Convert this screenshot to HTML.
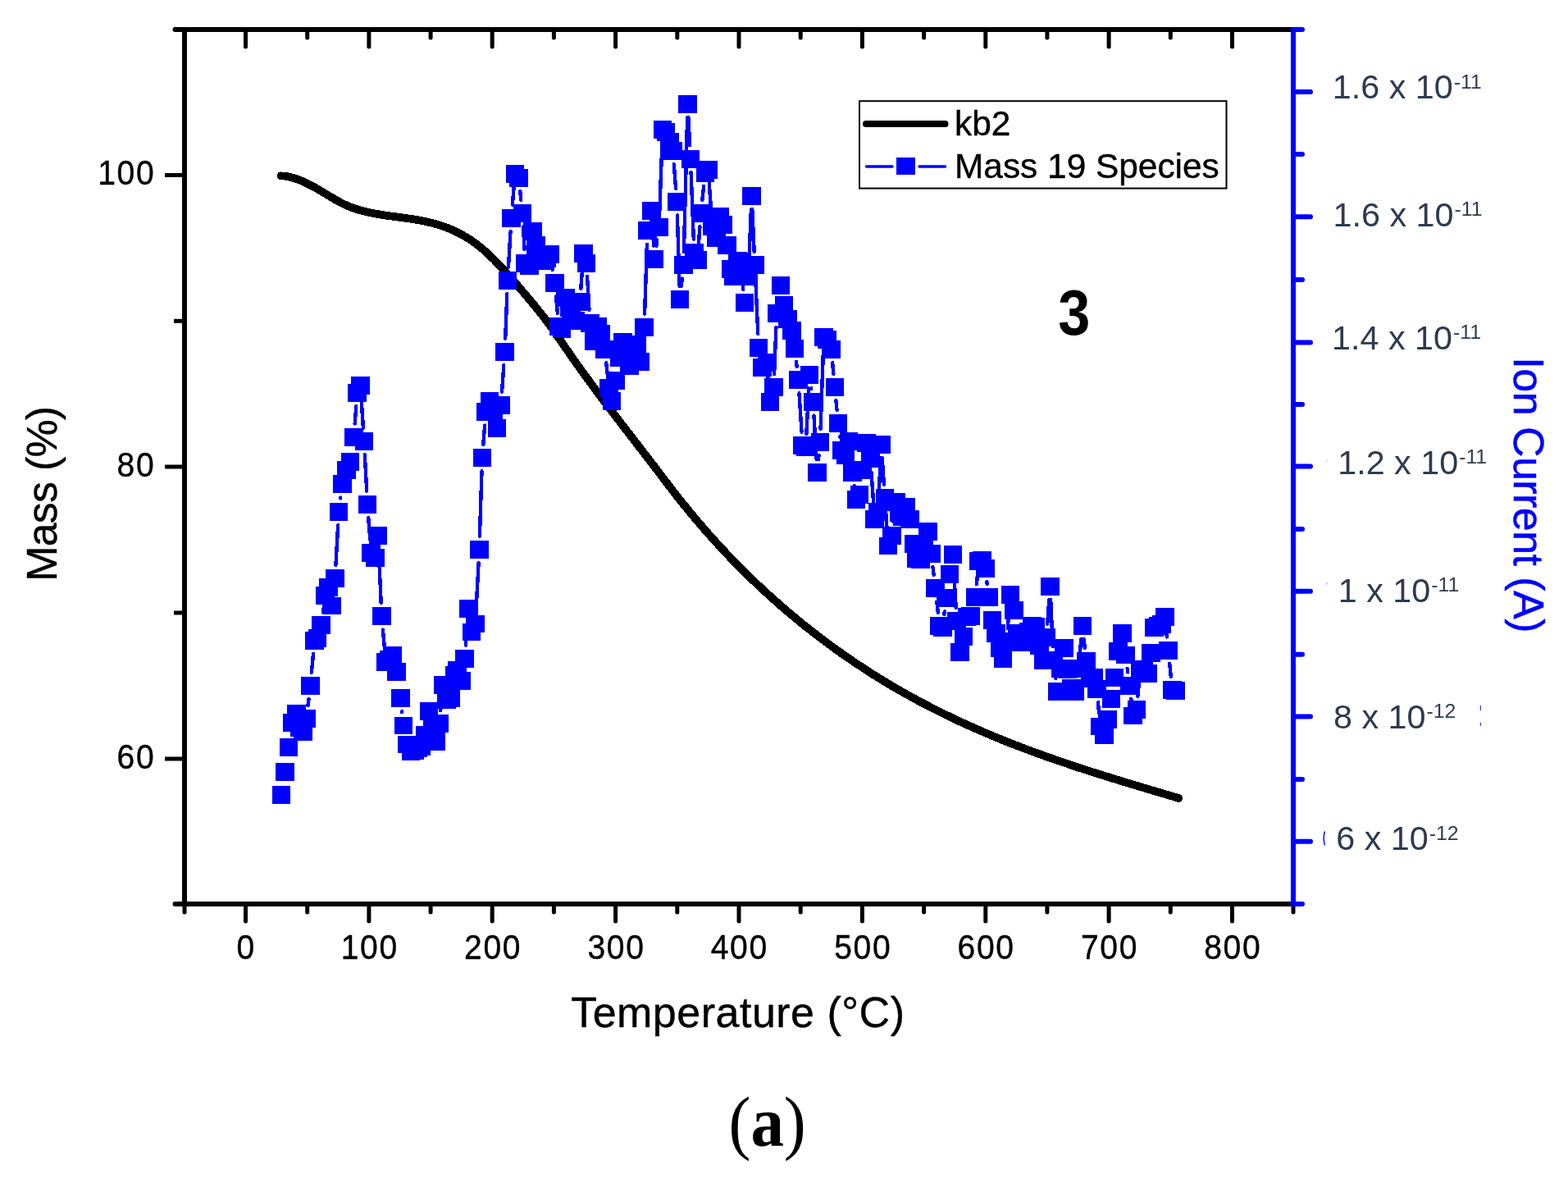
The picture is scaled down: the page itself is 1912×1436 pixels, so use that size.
<!DOCTYPE html>
<html lang="en"><head><meta charset="utf-8"><title>TGA-MS kb2</title>
<style>html,body{margin:0;padding:0;background:#fff;overflow:hidden}svg{display:block}text{font-family:"Liberation Sans",Arial,sans-serif}.ser{font-family:"Liberation Serif","Times New Roman",serif}.k{fill:#000;stroke:#000;stroke-width:.4px;stroke-linejoin:round}</style></head><body>
<svg width="1912" height="1436" viewBox="0 0 1912 1436">
<rect width="1912" height="1436" fill="#fff"/>
<path d="M342.5,214.3 L347.5,214.7 L352.5,215.6 L357.5,216.8 L362.5,218.5 L367.5,220.4 L372.5,222.7 L377.5,225.1 L382.5,227.8 L387.5,230.6 L392.5,233.6 L397.5,236.6 L402.5,239.6 L407.5,242.5 L412.5,245.4 L417.5,248.0 L422.5,250.3 L427.5,252.4 L432.5,254.2 L437.5,255.8 L442.5,257.2 L447.5,258.4 L452.5,259.5 L457.5,260.5 L462.5,261.4 L467.5,262.2 L472.5,262.9 L477.5,263.6 L482.5,264.2 L487.5,264.9 L492.5,265.6 L497.5,266.3 L502.5,267.0 L507.5,267.8 L512.5,268.7 L517.5,269.7 L522.5,270.8 L527.5,272.0 L532.5,273.4 L537.5,275.0 L542.5,276.7 L547.5,278.6 L552.5,280.7 L557.5,283.1 L562.5,285.7 L567.5,288.5 L572.5,291.6 L577.5,295.0 L582.5,298.8 L587.5,302.8 L592.5,307.1 L597.5,311.7 L602.5,316.6 L607.5,321.7 L612.5,326.9 L617.5,332.4 L622.5,338.0 L627.5,343.7 L632.5,349.6 L637.5,355.5 L642.5,361.4 L647.5,367.4 L652.5,373.4 L657.5,379.5 L662.5,385.8 L667.5,392.4 L672.5,399.2 L677.5,406.4 L682.5,413.7 L687.5,421.0 L692.5,428.2 L697.5,435.4 L702.5,442.5 L707.5,449.5 L712.5,456.4 L717.5,463.2 L722.5,470.0 L727.5,476.8 L732.5,483.5 L737.5,490.1 L742.5,496.7 L747.5,503.2 L752.5,509.8 L757.5,516.3 L762.5,522.8 L767.5,529.2 L772.5,535.7 L777.5,542.2 L782.5,548.7 L787.5,555.1 L792.5,561.7 L797.5,568.2 L802.5,574.7 L807.5,581.3 L812.5,587.9 L817.5,594.4 L822.5,600.9 L827.5,607.3 L832.5,613.5 L837.5,619.7 L842.5,625.8 L847.5,631.8 L852.5,637.7 L857.5,643.5 L862.5,649.2 L867.5,654.8 L872.5,660.4 L877.5,665.8 L882.5,671.2 L887.5,676.5 L892.5,681.8 L897.5,686.9 L902.5,692.0 L907.5,697.0 L912.5,701.9 L917.5,706.7 L922.5,711.5 L927.5,716.2 L932.5,720.8 L937.5,725.4 L942.5,729.9 L947.5,734.3 L952.5,738.7 L957.5,743.0 L962.5,747.3 L967.5,751.4 L972.5,755.6 L977.5,759.7 L982.5,763.7 L987.5,767.6 L992.5,771.5 L997.5,775.4 L1002.5,779.2 L1007.5,782.9 L1012.5,786.6 L1017.5,790.3 L1022.5,793.9 L1027.5,797.4 L1032.5,800.9 L1037.5,804.3 L1042.5,807.7 L1047.5,811.0 L1052.5,814.3 L1057.5,817.6 L1062.5,820.8 L1067.5,823.9 L1072.5,827.0 L1077.5,830.1 L1082.5,833.1 L1087.5,836.1 L1092.5,839.0 L1097.5,841.9 L1102.5,844.7 L1107.5,847.5 L1112.5,850.3 L1117.5,853.0 L1122.5,855.7 L1127.5,858.3 L1132.5,860.9 L1137.5,863.5 L1142.5,866.0 L1147.5,868.5 L1152.5,871.0 L1157.5,873.4 L1162.5,875.8 L1167.5,878.2 L1172.5,880.5 L1177.5,882.8 L1182.5,885.0 L1187.5,887.3 L1192.5,889.5 L1197.5,891.6 L1202.5,893.8 L1207.5,895.9 L1212.5,898.0 L1217.5,900.0 L1222.5,902.1 L1227.5,904.1 L1232.5,906.1 L1237.5,908.0 L1242.5,909.9 L1247.5,911.8 L1252.5,913.7 L1257.5,915.6 L1262.5,917.4 L1267.5,919.2 L1272.5,921.0 L1277.5,922.8 L1282.5,924.6 L1287.5,926.3 L1292.5,928.0 L1297.5,929.7 L1302.5,931.4 L1307.5,933.1 L1312.5,934.8 L1317.5,936.4 L1322.5,938.0 L1327.5,939.7 L1332.5,941.3 L1337.5,942.8 L1342.5,944.4 L1347.5,946.0 L1352.5,947.5 L1357.5,949.1 L1362.5,950.6 L1367.5,952.2 L1372.5,953.7 L1377.5,955.2 L1382.5,956.7 L1387.5,958.2 L1392.5,959.7 L1397.5,961.2 L1402.5,962.7 L1407.5,964.2 L1412.5,965.6 L1417.5,967.1 L1422.5,968.6 L1427.5,970.1 L1432.5,971.6 L1437.3,973.0" fill="none" stroke="#000" stroke-width="9.7" stroke-linecap="round" stroke-linejoin="round" shape-rendering="crispEdges"/>
<path d="M375.5,860.2L376.5,852.2M379.9,819.8L382.0,797.0M393.8,745.8L394.2,742.5M406.5,722.3L406.5,721.6M409.4,689.1L412.2,640.0M415.2,607.5L415.3,606.6M432.7,516.5L434.3,495.2M440.6,486.7L442.9,521.5M444.8,554.1L447.2,598.6M449.2,631.2L451.3,657.6M461.7,669.7L464.7,735.1M466.9,767.6L469.0,790.9M490.2,867.2L490.3,868.3M537.2,866.2L538.8,851.1M567.8,786.7L570.1,758.6M580.5,744.2L583.6,686.3M584.9,653.7L587.5,574.3M589.3,541.8L591.1,518.6M612.1,477.6L614.3,445.3M616.2,412.7L618.3,358.3M620.0,325.7L622.5,282.2M624.9,249.7L626.6,228.0M634.3,233.2L635.3,243.8M638.0,276.3L639.6,304.2M647.1,307.6L647.9,298.2M673.2,325.9L673.8,328.9M678.0,361.2L679.9,381.8M686.9,384.6L687.5,379.2M708.3,351.7L710.3,325.2M716.0,336.8L718.5,377.7M739.2,442.2L740.8,456.4M782.4,424.8L783.6,415.2M786.1,382.7L788.9,297.7M795.5,273.3L797.1,299.7M800.3,299.9L801.3,292.6M804.2,260.2L807.4,174.3M821.8,200.0L824.1,229.8M825.9,262.3L828.5,348.7M830.8,348.8L831.7,339.6M833.9,307.1L838.1,143.3M839.4,143.3L841.1,177.2M842.6,209.8L845.8,291.7M851.7,300.7L853.4,276.3M856.3,243.8L858.2,226.9M864.8,223.3L867.3,259.7M905.7,346.2L906.3,352.8M913.2,320.6L915.9,255.3M917.3,255.3L919.7,306.7M921.2,339.3L924.3,407.2M936.4,458.2L937.6,473.8M944.1,456.1L946.4,398.7M949.3,366.3L949.7,364.1M970.9,441.1L971.6,446.8M974.5,479.3L977.5,526.7M983.4,528.7L986.2,473.3M989.2,473.2L989.3,474.2M992.5,506.7L995.5,559.7M998.0,559.8L998.5,555.2M1000.6,522.7L1003.9,427.7M1015.1,442.2L1016.4,455.8M1019.5,488.2L1020.5,499.8M1024.2,532.2L1024.3,532.8M1037.0,554.2L1037.6,559.8M1041.8,592.2L1041.8,592.8M1062.5,575.8L1065.4,616.7M1071.4,607.7L1073.8,558.3M1075.7,558.3L1077.9,590.7M1080.1,623.3L1081.9,649.2M1089.5,636.6L1090.5,628.2M1137.5,691.2L1138.7,701.2M1142.3,733.6L1143.8,746.8M1151.3,748.8L1151.8,745.5M1162.9,692.2L1165.7,740.7M1168.2,773.2L1168.9,779.2M1190.9,712.1L1192.0,700.2M1203.3,709.2L1203.7,712.1M1228.8,765.8L1230.7,741.1M1277.2,760.7L1279.3,731.1M1281.2,731.1L1283.8,788.2M1286.6,820.7L1287.4,826.8M1316.6,798.8L1318.4,779.2M1321.7,779.2L1322.8,789.8M1339.0,856.2L1340.1,869.3M1374.7,814.7L1375.3,819.5M1379.3,851.9L1379.8,856.3M1387.4,848.8L1388.9,832.2M1422.1,768.2L1422.9,776.4M1426.2,808.8L1427.8,824.8" fill="none" stroke="#0000ff" stroke-width="4.4" stroke-linecap="round" shape-rendering="crispEdges"/>
<g fill="#0000ff" shape-rendering="crispEdges">
<rect x="331.7" y="958.0" width="22.6" height="21.9"/>
<rect x="336.2" y="930.0" width="22.6" height="21.9"/>
<rect x="340.7" y="900.4" width="22.6" height="21.9"/>
<rect x="345.2" y="870.0" width="22.6" height="21.9"/>
<rect x="350.1" y="859.0" width="22.6" height="21.9"/>
<rect x="354.2" y="875.8" width="22.6" height="21.9"/>
<rect x="358.2" y="880.9" width="22.6" height="21.9"/>
<rect x="362.2" y="865.4" width="22.6" height="21.9"/>
<rect x="367.2" y="825.0" width="22.6" height="21.9"/>
<rect x="372.1" y="769.8" width="22.6" height="21.9"/>
<rect x="375.7" y="767.2" width="22.6" height="21.9"/>
<rect x="380.2" y="750.9" width="22.6" height="21.9"/>
<rect x="385.2" y="715.4" width="22.6" height="21.9"/>
<rect x="389.2" y="704.6" width="22.6" height="21.9"/>
<rect x="393.2" y="727.5" width="22.6" height="21.9"/>
<rect x="397.2" y="694.4" width="22.6" height="21.9"/>
<rect x="401.8" y="612.8" width="22.6" height="21.9"/>
<rect x="406.1" y="579.4" width="22.6" height="21.9"/>
<rect x="411.1" y="562.0" width="22.6" height="21.9"/>
<rect x="415.7" y="551.9" width="22.6" height="21.9"/>
<rect x="420.2" y="521.8" width="22.6" height="21.9"/>
<rect x="424.2" y="467.9" width="22.6" height="21.9"/>
<rect x="428.2" y="459.4" width="22.6" height="21.9"/>
<rect x="432.7" y="526.8" width="22.6" height="21.9"/>
<rect x="436.7" y="603.9" width="22.6" height="21.9"/>
<rect x="441.2" y="662.9" width="22.6" height="21.9"/>
<rect x="446.2" y="669.3" width="22.6" height="21.9"/>
<rect x="449.7" y="642.4" width="22.6" height="21.9"/>
<rect x="454.1" y="740.4" width="22.6" height="21.9"/>
<rect x="459.2" y="796.1" width="22.6" height="21.9"/>
<rect x="463.3" y="793.1" width="22.6" height="21.9"/>
<rect x="467.2" y="787.5" width="22.6" height="21.9"/>
<rect x="472.2" y="807.8" width="22.6" height="21.9"/>
<rect x="477.2" y="840.0" width="22.6" height="21.9"/>
<rect x="480.7" y="873.5" width="22.6" height="21.9"/>
<rect x="485.1" y="896.5" width="22.6" height="21.9"/>
<rect x="489.7" y="905.4" width="22.6" height="21.9"/>
<rect x="494.3" y="903.6" width="22.6" height="21.9"/>
<rect x="498.3" y="901.0" width="22.6" height="21.9"/>
<rect x="502.3" y="899.4" width="22.6" height="21.9"/>
<rect x="507.2" y="884.6" width="22.6" height="21.9"/>
<rect x="511.7" y="855.9" width="22.6" height="21.9"/>
<rect x="516.1" y="878.0" width="22.6" height="21.9"/>
<rect x="520.2" y="893.4" width="22.6" height="21.9"/>
<rect x="524.3" y="871.4" width="22.6" height="21.9"/>
<rect x="529.1" y="823.9" width="22.6" height="21.9"/>
<rect x="533.2" y="842.5" width="22.6" height="21.9"/>
<rect x="538.0" y="839.6" width="22.6" height="21.9"/>
<rect x="543.2" y="812.4" width="22.6" height="21.9"/>
<rect x="546.4" y="805.5" width="22.6" height="21.9"/>
<rect x="551.2" y="819.0" width="22.6" height="21.9"/>
<rect x="555.2" y="791.9" width="22.6" height="21.9"/>
<rect x="560.1" y="731.4" width="22.6" height="21.9"/>
<rect x="563.7" y="759.5" width="22.6" height="21.9"/>
<rect x="568.4" y="749.5" width="22.6" height="21.9"/>
<rect x="573.1" y="659.0" width="22.6" height="21.9"/>
<rect x="576.7" y="547.0" width="22.6" height="21.9"/>
<rect x="581.1" y="491.4" width="22.6" height="21.9"/>
<rect x="585.7" y="478.1" width="22.6" height="21.9"/>
<rect x="590.2" y="489.1" width="22.6" height="21.9"/>
<rect x="594.6" y="510.9" width="22.6" height="21.9"/>
<rect x="599.6" y="482.9" width="22.6" height="21.9"/>
<rect x="604.2" y="418.1" width="22.6" height="21.9"/>
<rect x="607.7" y="331.1" width="22.6" height="21.9"/>
<rect x="612.2" y="254.9" width="22.6" height="21.9"/>
<rect x="616.7" y="200.9" width="22.6" height="21.9"/>
<rect x="621.3" y="206.1" width="22.6" height="21.9"/>
<rect x="625.7" y="249.1" width="22.6" height="21.9"/>
<rect x="629.3" y="309.6" width="22.6" height="21.9"/>
<rect x="634.2" y="312.9" width="22.6" height="21.9"/>
<rect x="638.2" y="271.1" width="22.6" height="21.9"/>
<rect x="642.2" y="288.1" width="22.6" height="21.9"/>
<rect x="646.7" y="299.1" width="22.6" height="21.9"/>
<rect x="651.2" y="307.1" width="22.6" height="21.9"/>
<rect x="655.2" y="303.7" width="22.6" height="21.9"/>
<rect x="659.2" y="298.9" width="22.6" height="21.9"/>
<rect x="665.2" y="334.1" width="22.6" height="21.9"/>
<rect x="670.1" y="387.1" width="22.6" height="21.9"/>
<rect x="673.6" y="389.9" width="22.6" height="21.9"/>
<rect x="678.2" y="352.1" width="22.6" height="21.9"/>
<rect x="682.7" y="364.1" width="22.6" height="21.9"/>
<rect x="685.3" y="378.6" width="22.6" height="21.9"/>
<rect x="690.0" y="380.4" width="22.6" height="21.9"/>
<rect x="695.8" y="357.1" width="22.6" height="21.9"/>
<rect x="700.2" y="297.9" width="22.6" height="21.9"/>
<rect x="703.7" y="309.6" width="22.6" height="21.9"/>
<rect x="708.2" y="383.1" width="22.6" height="21.9"/>
<rect x="713.3" y="404.9" width="22.6" height="21.9"/>
<rect x="717.2" y="386.9" width="22.6" height="21.9"/>
<rect x="721.3" y="396.1" width="22.6" height="21.9"/>
<rect x="726.1" y="415.1" width="22.6" height="21.9"/>
<rect x="731.3" y="461.7" width="22.6" height="21.9"/>
<rect x="734.7" y="477.6" width="22.6" height="21.9"/>
<rect x="739.2" y="453.1" width="22.6" height="21.9"/>
<rect x="744.3" y="425.1" width="22.6" height="21.9"/>
<rect x="748.4" y="406.4" width="22.6" height="21.9"/>
<rect x="752.4" y="419.1" width="22.6" height="21.9"/>
<rect x="756.2" y="434.8" width="22.6" height="21.9"/>
<rect x="761.2" y="424.1" width="22.6" height="21.9"/>
<rect x="765.2" y="408.8" width="22.6" height="21.9"/>
<rect x="769.2" y="430.1" width="22.6" height="21.9"/>
<rect x="774.2" y="388.1" width="22.6" height="21.9"/>
<rect x="778.2" y="270.4" width="22.6" height="21.9"/>
<rect x="783.3" y="246.1" width="22.6" height="21.9"/>
<rect x="786.7" y="305.1" width="22.6" height="21.9"/>
<rect x="792.3" y="265.6" width="22.6" height="21.9"/>
<rect x="796.7" y="147.1" width="22.6" height="21.9"/>
<rect x="800.7" y="149.6" width="22.6" height="21.9"/>
<rect x="805.2" y="161.9" width="22.6" height="21.9"/>
<rect x="809.2" y="172.9" width="22.6" height="21.9"/>
<rect x="814.1" y="235.1" width="22.6" height="21.9"/>
<rect x="817.7" y="354.1" width="22.6" height="21.9"/>
<rect x="822.2" y="312.4" width="22.6" height="21.9"/>
<rect x="827.2" y="116.0" width="22.6" height="21.9"/>
<rect x="830.7" y="182.6" width="22.6" height="21.9"/>
<rect x="835.1" y="297.1" width="22.6" height="21.9"/>
<rect x="839.3" y="306.1" width="22.6" height="21.9"/>
<rect x="843.2" y="249.1" width="22.6" height="21.9"/>
<rect x="848.7" y="199.8" width="22.6" height="21.9"/>
<rect x="852.3" y="196.1" width="22.6" height="21.9"/>
<rect x="857.2" y="265.1" width="22.6" height="21.9"/>
<rect x="862.2" y="278.9" width="22.6" height="21.9"/>
<rect x="866.1" y="253.1" width="22.6" height="21.9"/>
<rect x="870.1" y="263.1" width="22.6" height="21.9"/>
<rect x="875.2" y="287.9" width="22.6" height="21.9"/>
<rect x="880.3" y="317.1" width="22.6" height="21.9"/>
<rect x="883.3" y="325.9" width="22.6" height="21.9"/>
<rect x="888.3" y="307.1" width="22.6" height="21.9"/>
<rect x="892.7" y="319.1" width="22.6" height="21.9"/>
<rect x="896.7" y="358.1" width="22.6" height="21.9"/>
<rect x="901.3" y="325.9" width="22.6" height="21.9"/>
<rect x="905.2" y="228.1" width="22.6" height="21.9"/>
<rect x="909.2" y="312.1" width="22.6" height="21.9"/>
<rect x="913.7" y="412.6" width="22.6" height="21.9"/>
<rect x="918.2" y="437.1" width="22.6" height="21.9"/>
<rect x="923.7" y="431.1" width="22.6" height="21.9"/>
<rect x="927.7" y="479.1" width="22.6" height="21.9"/>
<rect x="932.2" y="461.4" width="22.6" height="21.9"/>
<rect x="935.7" y="371.4" width="22.6" height="21.9"/>
<rect x="940.7" y="337.1" width="22.6" height="21.9"/>
<rect x="944.7" y="361.1" width="22.6" height="21.9"/>
<rect x="949.2" y="378.1" width="22.6" height="21.9"/>
<rect x="954.2" y="391.6" width="22.6" height="21.9"/>
<rect x="957.7" y="413.9" width="22.6" height="21.9"/>
<rect x="962.2" y="452.1" width="22.6" height="21.9"/>
<rect x="967.2" y="532.0" width="22.6" height="21.9"/>
<rect x="971.3" y="534.0" width="22.6" height="21.9"/>
<rect x="975.7" y="446.1" width="22.6" height="21.9"/>
<rect x="980.2" y="479.4" width="22.6" height="21.9"/>
<rect x="985.2" y="565.0" width="22.6" height="21.9"/>
<rect x="988.7" y="528.0" width="22.6" height="21.9"/>
<rect x="993.2" y="400.4" width="22.6" height="21.9"/>
<rect x="997.4" y="403.4" width="22.6" height="21.9"/>
<rect x="1002.2" y="415.1" width="22.6" height="21.9"/>
<rect x="1006.7" y="461.1" width="22.6" height="21.9"/>
<rect x="1010.7" y="505.1" width="22.6" height="21.9"/>
<rect x="1015.2" y="538.0" width="22.6" height="21.9"/>
<rect x="1019.7" y="544.0" width="22.6" height="21.9"/>
<rect x="1023.7" y="527.0" width="22.6" height="21.9"/>
<rect x="1028.3" y="565.0" width="22.6" height="21.9"/>
<rect x="1032.7" y="598.0" width="22.6" height="21.9"/>
<rect x="1036.7" y="591.8" width="22.6" height="21.9"/>
<rect x="1040.7" y="561.6" width="22.6" height="21.9"/>
<rect x="1045.3" y="529.0" width="22.6" height="21.9"/>
<rect x="1050.1" y="548.5" width="22.6" height="21.9"/>
<rect x="1055.2" y="622.0" width="22.6" height="21.9"/>
<rect x="1059.3" y="613.0" width="22.6" height="21.9"/>
<rect x="1063.3" y="531.0" width="22.6" height="21.9"/>
<rect x="1067.7" y="596.0" width="22.6" height="21.9"/>
<rect x="1071.7" y="654.5" width="22.6" height="21.9"/>
<rect x="1076.2" y="641.8" width="22.6" height="21.9"/>
<rect x="1081.2" y="601.0" width="22.6" height="21.9"/>
<rect x="1085.2" y="614.0" width="22.6" height="21.9"/>
<rect x="1089.2" y="619.0" width="22.6" height="21.9"/>
<rect x="1093.2" y="607.0" width="22.6" height="21.9"/>
<rect x="1098.2" y="622.0" width="22.6" height="21.9"/>
<rect x="1103.2" y="652.0" width="22.6" height="21.9"/>
<rect x="1106.3" y="669.8" width="22.6" height="21.9"/>
<rect x="1111.1" y="671.0" width="22.6" height="21.9"/>
<rect x="1115.7" y="659.0" width="22.6" height="21.9"/>
<rect x="1120.3" y="637.0" width="22.6" height="21.9"/>
<rect x="1124.3" y="664.0" width="22.6" height="21.9"/>
<rect x="1129.3" y="706.4" width="22.6" height="21.9"/>
<rect x="1134.2" y="752.0" width="22.6" height="21.9"/>
<rect x="1138.1" y="754.0" width="22.6" height="21.9"/>
<rect x="1142.4" y="718.3" width="22.6" height="21.9"/>
<rect x="1146.7" y="689.0" width="22.6" height="21.9"/>
<rect x="1150.7" y="664.9" width="22.6" height="21.9"/>
<rect x="1155.3" y="746.0" width="22.6" height="21.9"/>
<rect x="1159.2" y="784.4" width="22.6" height="21.9"/>
<rect x="1163.7" y="765.0" width="22.6" height="21.9"/>
<rect x="1167.7" y="741.0" width="22.6" height="21.9"/>
<rect x="1172.3" y="740.4" width="22.6" height="21.9"/>
<rect x="1178.2" y="717.3" width="22.6" height="21.9"/>
<rect x="1182.1" y="673.0" width="22.6" height="21.9"/>
<rect x="1186.2" y="672.0" width="22.6" height="21.9"/>
<rect x="1190.2" y="682.0" width="22.6" height="21.9"/>
<rect x="1194.2" y="717.3" width="22.6" height="21.9"/>
<rect x="1198.7" y="745.4" width="22.6" height="21.9"/>
<rect x="1203.3" y="761.4" width="22.6" height="21.9"/>
<rect x="1208.3" y="779.0" width="22.6" height="21.9"/>
<rect x="1211.7" y="792.0" width="22.6" height="21.9"/>
<rect x="1216.2" y="771.0" width="22.6" height="21.9"/>
<rect x="1220.7" y="713.9" width="22.6" height="21.9"/>
<rect x="1225.2" y="732.6" width="22.6" height="21.9"/>
<rect x="1229.3" y="760.9" width="22.6" height="21.9"/>
<rect x="1234.4" y="772.0" width="22.6" height="21.9"/>
<rect x="1238.7" y="766.0" width="22.6" height="21.9"/>
<rect x="1242.7" y="759.0" width="22.6" height="21.9"/>
<rect x="1247.4" y="752.0" width="22.6" height="21.9"/>
<rect x="1251.3" y="753.0" width="22.6" height="21.9"/>
<rect x="1256.2" y="776.0" width="22.6" height="21.9"/>
<rect x="1261.3" y="794.0" width="22.6" height="21.9"/>
<rect x="1264.7" y="766.0" width="22.6" height="21.9"/>
<rect x="1269.2" y="703.8" width="22.6" height="21.9"/>
<rect x="1273.2" y="793.5" width="22.6" height="21.9"/>
<rect x="1278.2" y="832.0" width="22.6" height="21.9"/>
<rect x="1282.2" y="804.0" width="22.6" height="21.9"/>
<rect x="1286.2" y="778.6" width="22.6" height="21.9"/>
<rect x="1290.7" y="805.0" width="22.6" height="21.9"/>
<rect x="1295.3" y="828.4" width="22.6" height="21.9"/>
<rect x="1299.3" y="831.9" width="22.6" height="21.9"/>
<rect x="1303.7" y="804.0" width="22.6" height="21.9"/>
<rect x="1308.7" y="752.0" width="22.6" height="21.9"/>
<rect x="1313.2" y="795.0" width="22.6" height="21.9"/>
<rect x="1317.7" y="816.0" width="22.6" height="21.9"/>
<rect x="1322.3" y="815.0" width="22.6" height="21.9"/>
<rect x="1326.3" y="829.0" width="22.6" height="21.9"/>
<rect x="1330.2" y="874.5" width="22.6" height="21.9"/>
<rect x="1335.2" y="885.0" width="22.6" height="21.9"/>
<rect x="1339.3" y="865.9" width="22.6" height="21.9"/>
<rect x="1343.7" y="840.8" width="22.6" height="21.9"/>
<rect x="1347.7" y="815.0" width="22.6" height="21.9"/>
<rect x="1352.2" y="783.0" width="22.6" height="21.9"/>
<rect x="1357.2" y="761.0" width="22.6" height="21.9"/>
<rect x="1361.2" y="787.5" width="22.6" height="21.9"/>
<rect x="1366.2" y="824.8" width="22.6" height="21.9"/>
<rect x="1370.3" y="861.5" width="22.6" height="21.9"/>
<rect x="1374.7" y="854.0" width="22.6" height="21.9"/>
<rect x="1379.0" y="805.0" width="22.6" height="21.9"/>
<rect x="1383.7" y="807.0" width="22.6" height="21.9"/>
<rect x="1388.2" y="809.6" width="22.6" height="21.9"/>
<rect x="1392.2" y="785.0" width="22.6" height="21.9"/>
<rect x="1396.2" y="754.0" width="22.6" height="21.9"/>
<rect x="1400.7" y="752.0" width="22.6" height="21.9"/>
<rect x="1405.2" y="749.6" width="22.6" height="21.9"/>
<rect x="1409.2" y="741.0" width="22.6" height="21.9"/>
<rect x="1413.2" y="781.6" width="22.6" height="21.9"/>
<rect x="1418.2" y="830.0" width="22.6" height="21.9"/>
<rect x="1422.2" y="831.0" width="22.6" height="21.9"/>
</g>
<g stroke="#000" stroke-width="6" fill="none" stroke-linecap="butt">
<path d="M225,33V1105"/>
<path d="M214,36H1577"/>
<path d="M214,1102H1577"/>
<path d="M213.5,36h1M213.5,1102h1" stroke-linecap="round"/>
</g>
<g stroke="#000" stroke-width="5" fill="none" stroke-linecap="round">
<path d="M225.0,1102V1112"/>
<path d="M299.5,1102V1123"/>
<path d="M299.5,36V57"/>
<path d="M374.7,1102V1112"/>
<path d="M374.7,36V46"/>
<path d="M449.9,1102V1123"/>
<path d="M449.9,36V57"/>
<path d="M525.1,1102V1112"/>
<path d="M525.1,36V46"/>
<path d="M600.2,1102V1123"/>
<path d="M600.2,36V57"/>
<path d="M675.4,1102V1112"/>
<path d="M675.4,36V46"/>
<path d="M750.6,1102V1123"/>
<path d="M750.6,36V57"/>
<path d="M825.8,1102V1112"/>
<path d="M825.8,36V46"/>
<path d="M901.0,1102V1123"/>
<path d="M901.0,36V57"/>
<path d="M976.2,1102V1112"/>
<path d="M976.2,36V46"/>
<path d="M1051.4,1102V1123"/>
<path d="M1051.4,36V57"/>
<path d="M1126.6,1102V1112"/>
<path d="M1126.6,36V46"/>
<path d="M1201.8,1102V1123"/>
<path d="M1201.8,36V57"/>
<path d="M1276.9,1102V1112"/>
<path d="M1276.9,36V46"/>
<path d="M1352.1,1102V1123"/>
<path d="M1352.1,36V57"/>
<path d="M1427.3,1102V1112"/>
<path d="M1427.3,36V46"/>
<path d="M1502.5,1102V1123"/>
<path d="M1502.5,36V57"/>
<path d="M1577,1102V1112"/>
</g>
<g stroke="#000" stroke-width="5" fill="none" stroke-linecap="butt">
<path d="M225,213.5H201"/>
<path d="M225,391.3H212"/>
<path d="M225,569H201"/>
<path d="M225,747H212"/>
<path d="M225,925H201"/>
</g>
<g stroke="#0000ff" stroke-width="6" fill="none" stroke-linecap="round">
<path d="M1577,33V1105" stroke-linecap="butt"/>
<path d="M1577,112H1598"/>
<path d="M1577,264.3H1598"/>
<path d="M1577,417.6H1598"/>
<path d="M1577,568.4H1598"/>
<path d="M1577,720.7H1598"/>
<path d="M1577,873.6H1598"/>
<path d="M1577,1025.7H1598"/>
<path d="M1577,36H1588"/>
<path d="M1577,188.1H1588"/>
<path d="M1577,341H1588"/>
<path d="M1577,493H1588"/>
<path d="M1577,645H1588"/>
<path d="M1577,797.8H1588"/>
<path d="M1577,950H1588"/>
<path d="M1577,1102H1588"/>
</g>
<g font-size="42" class="k">
<text transform="translate(300.3,1168.6) scale(0.93,1.02)" letter-spacing="1.78" text-anchor="middle">0</text>
<text transform="translate(450.7,1168.6) scale(0.93,1.02)" letter-spacing="1.78" text-anchor="middle">100</text>
<text transform="translate(601.1,1168.6) scale(0.93,1.02)" letter-spacing="1.78" text-anchor="middle">200</text>
<text transform="translate(751.5,1168.6) scale(0.93,1.02)" letter-spacing="1.78" text-anchor="middle">300</text>
<text transform="translate(901.8,1168.6) scale(0.93,1.02)" letter-spacing="1.78" text-anchor="middle">400</text>
<text transform="translate(1052.2,1168.6) scale(0.93,1.02)" letter-spacing="1.78" text-anchor="middle">500</text>
<text transform="translate(1202.6,1168.6) scale(0.93,1.02)" letter-spacing="1.78" text-anchor="middle">600</text>
<text transform="translate(1353.0,1168.6) scale(0.93,1.02)" letter-spacing="1.78" text-anchor="middle">700</text>
<text transform="translate(1503.3,1168.6) scale(0.93,1.02)" letter-spacing="1.78" text-anchor="middle">800</text>
<text transform="translate(189.3,225.1) scale(0.93,1.02)" letter-spacing="1.78" text-anchor="end">100</text>
<text transform="translate(189.3,580.6) scale(0.93,1.02)" letter-spacing="1.78" text-anchor="end">80</text>
<text transform="translate(189.3,936.6) scale(0.93,1.02)" letter-spacing="1.78" text-anchor="end">60</text>
</g>
<g font-size="41.3" fill="#2e3a4e">
<text x="1624.8" y="120.4">1.6 x 10<tspan font-size="24.8" dy="-12.8" dx="1">-11</tspan></text>
<text x="1625.5" y="276.0">1.6 x 10<tspan font-size="24.8" dy="-12.8" dx="1">-11</tspan></text>
<text x="1624.0" y="426.2">1.4 x 10<tspan font-size="24.8" dy="-12.8" dx="1">-11</tspan></text>
<text x="1631.2" y="577.8">1.2 x 10<tspan font-size="24.8" dy="-12.8" dx="1">-11</tspan></text>
<text x="1631.7" y="733.9">1 x 10<tspan font-size="24.8" dy="-12.8" dx="1">-11</tspan></text>
<text x="1626.0" y="887.6">8 x 10<tspan font-size="24.8" dy="-12.8" dx="1">-12</tspan></text>
<text x="1629.2" y="1036.3">6 x 10<tspan font-size="24.8" dy="-12.8" dx="1">-12</tspan></text>
</g>
<path d="M1615.4,1013.5C1613.8,1019 1613.8,1025 1615.4,1030.5" stroke="#0000ff" stroke-width="1.4" fill="none"/>
<path d="M1805.3,860v6M1805.3,881v4" stroke="#0000ff" stroke-width="1" fill="none"/>
<circle cx="1618" cy="711.5" r="1.3" fill="#e8b0f0"/><circle cx="1618" cy="561.5" r="1.3" fill="#ecd8f6"/>
<text class="k" x="899.8" y="1252.2" font-size="52" letter-spacing="0.5" text-anchor="middle">Temperature (°C)</text>
<text class="k" transform="translate(68.8,602.2) rotate(-90)" font-size="52" letter-spacing="-0.8" text-anchor="middle">Mass (%)</text>
<text transform="translate(1845.6,603.2) rotate(90)" font-size="52" letter-spacing="-0.55" text-anchor="middle" fill="#0000ff" stroke="#0000ff" stroke-width="0.5">Ion Current (A)</text>
<rect x="1048" y="123.2" width="447.5" height="106.4" fill="#fff" stroke="#000" stroke-width="2"/>
<path d="M1056,151H1152.5" stroke="#000" stroke-width="8" stroke-linecap="round" fill="none"/>
<path d="M1056.5,203H1088M1121,203H1152.5" stroke="#0000ff" stroke-width="3.5" stroke-linecap="round" fill="none"/>
<rect x="1093" y="192" width="23" height="21" fill="#0000ff" shape-rendering="crispEdges"/>
<text class="k" x="1164" y="164.6" font-size="42.4">kb2</text>
<text class="k" x="1164" y="217" font-size="42.4">Mass 19 Species</text>
<text transform="translate(1309.8,408.4) scale(0.905,1)" font-size="77.5" font-weight="bold" text-anchor="middle" fill="#000">3</text>
<text class="ser" transform="translate(935.6,1397) scale(0.975,1.04)" font-size="83" text-anchor="middle" fill="#000">(<tspan font-weight="bold">a</tspan>)</text>
</svg></body></html>
